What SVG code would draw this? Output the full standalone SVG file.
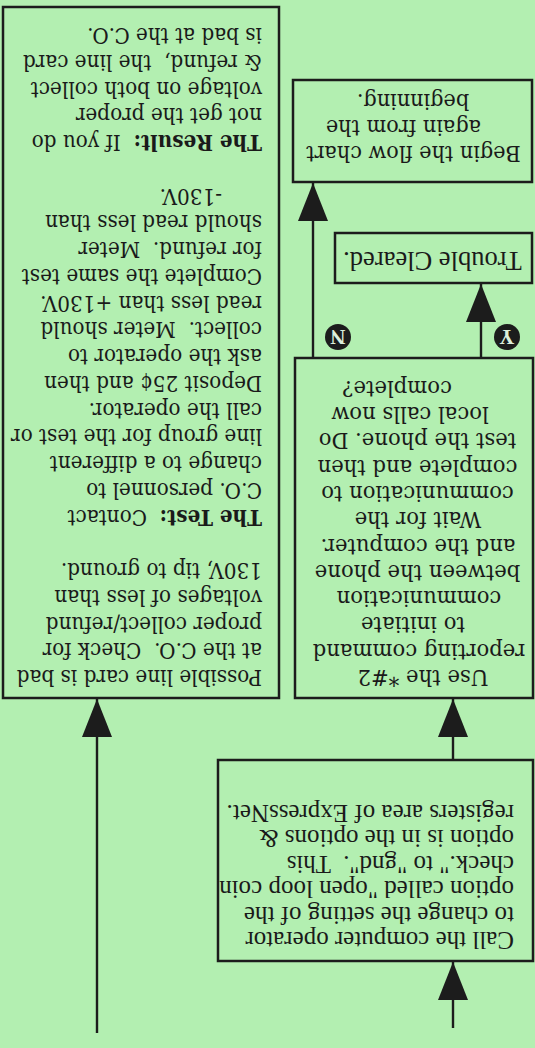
<svg xmlns="http://www.w3.org/2000/svg" width="535" height="1048" viewBox="0 0 535 1048" xml:space="preserve">
<style>
.bg{fill:#b3efb1}
.box{fill:#b3efb1;stroke:#1c1c1c;stroke-width:2.5}
.t{font-family:"Liberation Serif","Times New Roman",serif;font-size:25px;fill:#1a1a1a;white-space:pre}
.d{font-family:"DejaVu Serif",serif;font-size:22px;fill:#1a1a1a;white-space:pre}
.u{font-size:22.5px}
.c{text-anchor:middle}
.b{font-weight:bold}
.ln{stroke:#1c1c1c;stroke-width:2.4;fill:none}
.dot{fill:#1c1c1c}
.dl{font-family:"Liberation Serif","Times New Roman",serif;font-weight:bold;font-size:21px;fill:#dcefdc;text-anchor:middle}
</style>
<defs>
<marker id="ah" viewBox="0 0 38 30" refX="38" refY="15" markerWidth="38" markerHeight="30" markerUnits="userSpaceOnUse" orient="auto"><path d="M0,0 L38,15 L0,30 Z" fill="#1c1c1c"/></marker>
</defs>
<rect class="bg" x="0" y="0" width="535" height="1048"/>
<g transform="rotate(180 267.5 524)">
<g id="connectors">
<line class="ln" x1="82" y1="20" x2="82" y2="86" marker-end="url(#ah)"/>
<line class="ln" x1="82" y1="288" x2="82" y2="349" marker-end="url(#ah)"/>
<line class="ln" x1="438" y1="15" x2="438" y2="349" marker-end="url(#ah)"/>
<line class="ln" x1="54" y1="690" x2="54" y2="764" marker-end="url(#ah)"/>
<line class="ln" x1="222" y1="690" x2="222" y2="865" marker-end="url(#ah)"/>
<g id="label-y"><circle class="dot" cx="28" cy="711" r="13"/><text class="dl" x="28" y="718.5">Y</text></g>
<g id="label-n"><circle class="dot" cx="197" cy="711" r="13"/><text class="dl" x="197" y="718.5">N</text></g>
</g>
<g id="node-call">
<rect class="box" x="2" y="87" width="315" height="201"/>
<text class="t" x="21" y="116">Call the computer operator</text>
<text class="t" x="21" y="141.4">to change the setting of the</text>
<text class="t" x="21" y="166.8">option called "open loop coin</text>
<text class="t" x="21" y="192.2">check." to "gnd".  This</text>
<text class="t" x="21" y="217.6">option is in the options &amp;</text>
<text class="t" x="21" y="243">registers area of ExpressNet.</text>
</g>
<g id="node-use">
<rect class="box" x="2" y="350" width="238" height="340"/>
<g transform="scale(0.94,1)">
<text class="d u c" x="119.1" y="378">Use the *#2</text>
<text class="d u c" x="123.4" y="404.3">reporting command</text>
<text class="d u c" x="129.8" y="430.6">to initiate</text>
<text class="d u c" x="123.4" y="456.9">communication</text>
<text class="d u c" x="125" y="483.2">between the phone</text>
<text class="d u c" x="124.5" y="509.5">and the computer.</text>
<text class="d u c" x="124.5" y="535.8">Wait for the</text>
<text class="d u c" x="125" y="562.1">communication to</text>
<text class="d u c" x="125" y="588.4">complete and then</text>
<text class="d u c" x="125" y="614.7">test the phone. Do</text>
<text class="d u c" x="133" y="641">local calls now</text>
<text class="d u c" x="146.8" y="667.3">complete?</text>
</g>
</g>
<g id="node-trouble">
<rect class="box" x="3" y="765" width="197" height="50"/>
<text class="t c" x="102.5" y="796" style="font-size:26.5px">Trouble Cleared.</text>
</g>
<g id="node-begin">
<rect class="box" x="3" y="866" width="239" height="102"/>
<g transform="scale(0.945,1)">
<text class="d c" x="128.6" y="902">Begin the flow chart</text>
<text class="d c" x="139.2" y="928">again from the</text>
<text class="d c" x="129.1" y="954">beginning.</text>
</g>
</g>
<g id="node-linecard">
<rect class="box" x="256" y="350" width="276" height="691"/>
<g transform="scale(0.91,1)">
<text class="d" x="300" y="378">Possible line card is bad</text>
<text class="d" x="300" y="404.75">at the C.O.  Check for</text>
<text class="d" x="300" y="431.5">proper collect/refund</text>
<text class="d" x="300" y="458.25">voltages of less than</text>
<text class="d" x="300" y="485">130V, tip to ground.</text>
<text class="d" x="300" y="538.5"><tspan class="b">The Test:</tspan>  Contact</text>
<text class="d" x="300" y="565.25">C.O. personnel to</text>
<text class="d" x="300" y="592">change to a different</text>
<text class="d" x="300" y="618.75">line group for the test or</text>
<text class="d" x="300" y="645.5">call the operator.</text>
<text class="d" x="300" y="672.25">Deposit 25¢ and then</text>
<text class="d" x="300" y="699">ask the operator to</text>
<text class="d" x="300" y="725.75">collect.  Meter should</text>
<text class="d" x="300" y="752.5">read less than +130V.</text>
<text class="d" x="300" y="779.25">Complete the same test</text>
<text class="d" x="300" y="806">for refund.  Meter</text>
<text class="d" x="300" y="832.75">should read less than</text>
<text class="d" x="344" y="859.5">-130V.</text>
<text class="d" x="300" y="913"><tspan class="b">The Result:</tspan>  If you do</text>
<text class="d" x="300" y="939.75">not get the proper</text>
<text class="d" x="300" y="966.5">voltage on both collect</text>
<text class="d" x="300" y="993.25">&amp; refund,  the line card</text>
<text class="d" x="300" y="1020">is bad at the C.O.</text>
</g>
</g>
</g>
</svg>
